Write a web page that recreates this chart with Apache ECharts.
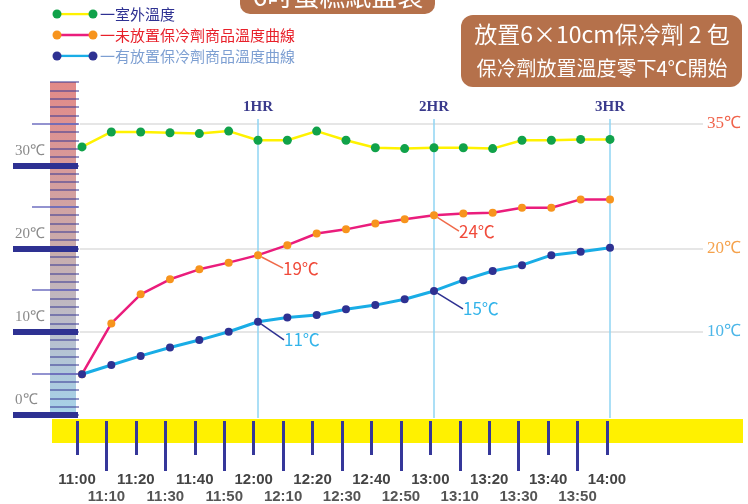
<!DOCTYPE html>
<html><head><meta charset="utf-8">
<script src="https://cdn.jsdelivr.net/npm/echarts@6/dist/echarts.min.js"></script>
<style>html,body{margin:0;padding:0;background:#fff}#c{width:748px;height:504px}</style>
</head><body><div id="c"></div>
<script>
// ---------- data ----------
const times = ['11:00','11:10','11:20','11:30','11:40','11:50','12:00','12:10','12:20','12:30','12:40','12:50','13:00','13:10','13:20','13:30','13:40','13:50','14:00'];
const outdoor = [32.2,34.0,34.0,33.9,33.8,34.1,33.0,33.0,34.1,33.0,32.1,32.0,32.1,32.1,32.0,33.0,33.0,33.1,33.1];
const noIce   = [4.9,11.0,14.5,16.3,17.5,18.3,19.2,20.4,21.8,22.3,23.0,23.5,24.0,24.2,24.3,24.9,24.9,25.9,25.9];
const withIce = [4.9,6.0,7.1,8.1,9.0,10.0,11.2,11.7,12.0,12.7,13.2,13.9,14.9,16.2,17.3,18.0,19.2,19.6,20.1];
const hrIndex = [6,12,18];
const hrMarks = ['1HR','2HR','3HR'];
const refTemps = [35,20,10];
const refColors = ['#f0644c','#f5a24c','#4cb6e8'];
const thermoTemps = [0,10,20,30];
const legendNames = ['一室外溫度','一未放置保冷劑商品溫度曲線','一有放置保冷劑商品溫度曲線'];
const legendColors = ['#2e3192','#e8202a','#7d9fd2'];
const noIceNotes = {6:'19℃', 12:'24℃'};
const withIceNotes = {6:'11℃', 12:'15℃'};
const boxLine1 = '放置6×10cm保冷劑 2 包';
const boxLine2 = '保冷劑放置溫度零下4℃開始';
const topBoxText = '6吋蛋糕紙盒裝';

// ---------- styles ----------
const C = {yellow:'#fff200', green:'#10a24a', magenta:'#ea1d7c', orange:'#f7941d', cyan:'#19ade6', navy:'#2e3192', noteRed:'#f04a3a', noteBlue:'#33b4ea'};
const noteFont = {fontFamily:'Noto Sans CJK TC', fontSize:17};
function withNotes(arr, notes, textColor, lineColor){
  return arr.map((v,i)=> notes[i] ? {value:v, label:{show:true, position:'right', formatter:notes[i], color:textColor, ...noteFont},
    labelLine:{show:true, lineStyle:{color:lineColor, width:1.5}}} : v);
}
const noteOffsets = {1:{6:[16,13],12:[16,16]}, 2:{6:[17,18],12:[20,18]}};

const hidden = {show:false};
const thermoGrad = {type:'linear',x:0,y:0,x2:0,y2:1,colorStops:[
  {offset:0,color:'#e28a88'},{offset:0.25,color:'#d89a9a'},{offset:0.5,color:'#c9acac'},{offset:0.75,color:'#b9bfcd'},{offset:1,color:'#a4d3ea'}]};
const T='rgba(0,0,0,0)';
const chart = echarts.init(document.getElementById('c'));
chart.setOption({
  animation:false,
  backgroundColor:'#fff',
  grid:[
    {left:82,right:138,top:82,bottom:89},                  //0 main
    {left:80,right:45,top:82,bottom:89},                   //1 ref lines
    {left:82,right:138,top:119,bottom:86},                 //2 hour lines
    {left:50,width:26,top:82,bottom:86,show:true,backgroundColor:thermoGrad,borderWidth:0}, //3 thermometer
    {left:50,width:29,top:82,bottom:89},                   //4 minor ticks
    {left:32,width:46,top:82,bottom:89},                   //5 5-degree ticks
    {left:13,width:65,top:82,bottom:89},                   //6 10-degree bars
    {left:52,right:5,top:419,height:24,show:true,backgroundColor:'#fff100',borderWidth:0}, //7 band
    {left:77,right:141,top:398,height:24},                 //8 time ticks
    {left:57,width:36,top:14,height:42}                    //9 legend
  ],
  xAxis:[
    {gridIndex:0,type:'category',data:times,boundaryGap:false,show:false},
    {gridIndex:1,type:'value',min:0,max:1,show:false},
    {gridIndex:2,type:'category',data:times,boundaryGap:false,position:'top',axisLine:hidden,axisTick:hidden,
      axisLabel:{interval:(i)=>hrIndex.includes(i),formatter:(v,i)=>hrMarks[hrIndex.indexOf(i)]||'',margin:4,
        color:'#3a3a8c',fontFamily:'Liberation Serif',fontWeight:'bold',fontSize:15},
      splitLine:{show:true,interval:(i)=>hrIndex.includes(i),lineStyle:{color:'#8fd5f3',width:1.5}}},
    {gridIndex:3,type:'value',show:false},
    {gridIndex:4,type:'value',show:false},
    {gridIndex:5,type:'value',show:false},
    {gridIndex:6,type:'value',show:false},
    {gridIndex:7,type:'value',show:false},
    {gridIndex:8,type:'category',data:times,boundaryGap:false,position:'bottom',axisLine:hidden,
      axisTick:{show:true,interval:(i)=>i%2===0,length:34,lineStyle:{color:'#35379a',width:3}},
      axisLabel:{interval:(i)=>i%2===0,margin:51,color:'#444',fontWeight:'bold',fontSize:15,fontFamily:'Liberation Sans Narrow, Liberation Sans'}},
    {gridIndex:8,type:'category',data:times,boundaryGap:false,position:'bottom',axisLine:hidden,
      axisTick:{show:true,interval:(i)=>i%2===1,length:50,lineStyle:{color:'#35379a',width:3}},
      axisLabel:{interval:(i)=>i%2===1,margin:68,color:'#555',fontWeight:'bold',fontSize:15,fontFamily:'Liberation Sans Narrow, Liberation Sans'}},
    {gridIndex:9,type:'value',min:0,max:1,show:false}
  ],
  yAxis:[
    {gridIndex:0,type:'value',min:0,max:40,show:false},
    {gridIndex:1,type:'value',min:0,max:40,interval:5,position:'right',axisLine:hidden,axisTick:hidden,
      splitLine:{show:true,lineStyle:{width:1.5,color:[T,T,'#dedede',T,'#dedede',T,T,'#dedede',T]}},
      axisLabel:{margin:4,fontFamily:'Liberation Serif',fontSize:17,
        formatter:(v)=>refTemps.includes(Number(v))?v+'℃':'',
        color:(v)=>refColors[refTemps.indexOf(Number(v))]||T}},
    {gridIndex:2,type:'value',min:0,max:1,show:false},
    {gridIndex:3,type:'value',show:false},
    {gridIndex:4,type:'value',min:0,max:40,interval:1,axisLine:hidden,axisTick:hidden,axisLabel:hidden,
      splitLine:{show:true,lineStyle:{color:'rgba(60,60,150,0.7)',width:1.5}}},
    {gridIndex:5,type:'value',min:0,max:40,interval:5,axisLine:hidden,axisTick:hidden,axisLabel:hidden,
      splitLine:{show:true,lineStyle:{width:1.5,color:[T,'#6f6fc0',T,'#6f6fc0',T,'#6f6fc0',T,'#6f6fc0',T]}}},
    {gridIndex:6,type:'value',min:0,max:40,interval:10,axisLine:hidden,axisTick:hidden,
      splitLine:{show:true,lineStyle:{width:6,color:['#2e3192','#2e3192','#2e3192','#2e3192',T]}},
      axisLabel:{inside:true,margin:2,verticalAlign:'bottom',padding:[0,0,7,0],color:'#8a8a8a',fontSize:15,
        fontFamily:'Liberation Serif',
        formatter:(v)=>thermoTemps.includes(Number(v))?v+'℃':''}},
    {gridIndex:7,type:'value',show:false},
    {gridIndex:8,type:'value',show:false},
    {gridIndex:9,type:'category',data:legendNames,inverse:true,boundaryGap:false,position:'right',
      axisLine:hidden,axisTick:hidden,splitLine:hidden,
      axisLabel:{margin:7,fontSize:15,fontFamily:'Noto Sans CJK TC',color:(v,i)=>legendColors[legendNames.indexOf(v)]}}
  ],
  series:[
    {name:'室外溫度',type:'line',xAxisIndex:0,yAxisIndex:0,data:outdoor,symbol:'circle',symbolSize:9,
      lineStyle:{color:C.yellow,width:2.5},itemStyle:{color:C.green},z:3},
    {name:'未放置保冷劑',type:'line',xAxisIndex:0,yAxisIndex:0,data:withNotes(noIce,noIceNotes,C.noteRed,'#f06a4a'),
      symbol:'circle',symbolSize:8,lineStyle:{color:C.magenta,width:2.5},itemStyle:{color:C.orange},z:3,
      labelLayout:(p)=>{const o=noteOffsets[1][p.dataIndex];return o?{dx:o[0],dy:o[1]}:{};}},
    {name:'有放置保冷劑',type:'line',xAxisIndex:0,yAxisIndex:0,data:withNotes(withIce,withIceNotes,C.noteBlue,C.navy),
      symbol:'circle',symbolSize:8,lineStyle:{color:C.cyan,width:3},itemStyle:{color:C.navy},z:4,
      labelLayout:(p)=>{const o=noteOffsets[2][p.dataIndex];return o?{dx:o[0],dy:o[1]}:{};}},
    {type:'line',xAxisIndex:10,yAxisIndex:9,data:[[0,0],[1,0]],symbol:'circle',symbolSize:9,lineStyle:{color:C.yellow,width:2.5},itemStyle:{color:C.green}},
    {type:'line',xAxisIndex:10,yAxisIndex:9,data:[[0,1],[1,1]],symbol:'circle',symbolSize:9,lineStyle:{color:C.magenta,width:2.5},itemStyle:{color:C.orange}},
    {type:'line',xAxisIndex:10,yAxisIndex:9,data:[[0,2],[1,2]],symbol:'circle',symbolSize:9,lineStyle:{color:C.cyan,width:2.5},itemStyle:{color:C.navy}}
  ],
  graphic:[
    {type:'rect',shape:{x:240,y:-30,width:195,height:44,r:10},style:{fill:'#b5714b'}},
    {type:'text',x:338,y:-4,style:{text:topBoxText,fill:'#fff',font:'26px "Noto Sans CJK TC"',textAlign:'center',textVerticalAlign:'middle'}},
    {type:'rect',shape:{x:461,y:15,width:281,height:72,r:12},style:{fill:'#b5714b'}},
    {type:'text',x:602,y:34,style:{text:boxLine1,fill:'#fff',font:'23px "Noto Sans CJK TC"',textAlign:'center',textVerticalAlign:'middle'}},
    {type:'text',x:602,y:68,style:{text:boxLine2,fill:'#fff',font:'20px "Noto Sans CJK TC"',textAlign:'center',textVerticalAlign:'middle'}}
  ]
});
</script></body></html>
